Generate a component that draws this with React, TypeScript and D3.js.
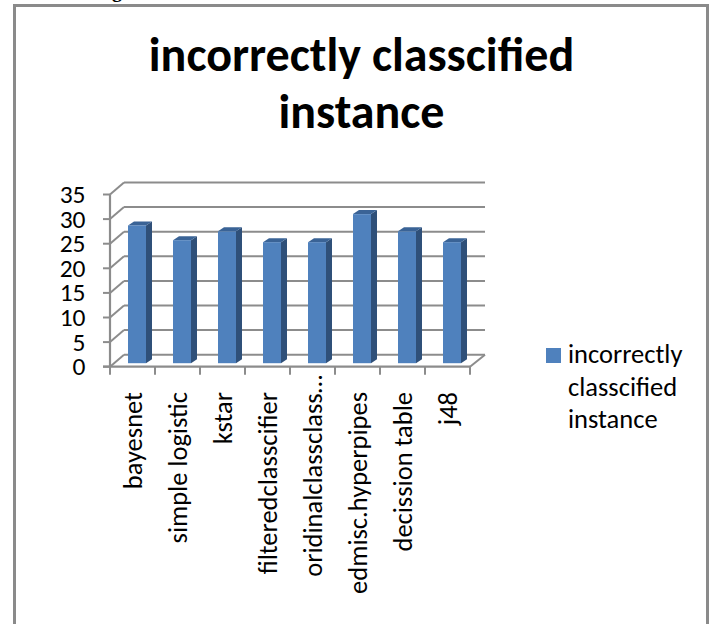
import React from "react";
import * as d3 from "d3";

const categories = ["bayesnet", "simple logistic", "kstar", "filteredclasscifier", "oridinalclassclass…", "edmisc.hyperpipes", "decission table", "j48"];
const values = [28, 25, 26.8, 24.6, 24.6, 30.3, 26.8, 24.6];
const yTicks = [0, 5, 10, 15, 20, 25, 30, 35];
const titleLines = ["incorrectly classcified", "instance"];
const legendLines = ["incorrectly", "classcified", "instance"];

const FONT = "Carlito, Calibri, 'Open Sans', 'Noto Sans', sans-serif";

export default function App() {
  const x = d3.scaleBand<string>().domain(categories).range([110, 470]);
  const y = d3.scaleLinear().domain([0, 35]).range([366.7, 194.5]);
  const dx = 14, dy = 12;
  const grey = "#8c8c8c";
  const barW = 18, d = 6, dt = 4, lift = 3.5;
  return (
    <svg width={714} height={624} style={{ position: "absolute", left: 0, top: 0, background: "#fff" }}>
      <text x={112} y={-3} fontFamily="'Liberation Serif', serif" fontWeight="bold" fontSize={20}>g</text>
      <rect x={14.5} y={5.5} width={693} height={640} fill="#fff" stroke="#8a8a8a" strokeWidth={3} />
      {titleLines.map((t, i) => (
        <text key={t} x={361.5} y={71 + i * 57} textAnchor="middle" fontFamily={FONT} fontWeight="bold" fontSize={48} fill="#000">{t}</text>
      ))}
      {yTicks.map(t => (
        <g key={t}>
          <line x1={110} y1={y(t)} x2={110 + dx} y2={y(t) - dy} stroke={grey} strokeWidth={2} />
          <line x1={110 + dx} y1={y(t) - dy} x2={485} y2={y(t) - dy} stroke={grey} strokeWidth={2} />
          <line x1={103} y1={y(t)} x2={110} y2={y(t)} stroke={grey} strokeWidth={2} />
          <text x={85.5} y={y(t) + 8.5} textAnchor="end" fontFamily={FONT} fontSize={25.5} fill="#000">{t}</text>
        </g>
      ))}
      <line x1={110} y1={y(0)} x2={110} y2={y(35)} stroke={grey} strokeWidth={2.2} />
      <line x1={103} y1={y(0)} x2={470} y2={y(0)} stroke={grey} strokeWidth={2.2} />
      <line x1={470} y1={y(0)} x2={485} y2={y(0) - dy} stroke={grey} strokeWidth={2} />
      {[...categories.map(c => x(c) as number), 470].map((px, i) => (
        <line key={i} x1={px} y1={y(0)} x2={px} y2={y(0) + 8} stroke={grey} strokeWidth={2} />
      ))}
      {categories.map((c, i) => {
        const left = (x(c) as number) + 18;
        const base = y(0) - lift;
        const top = base - (y(0) - y(values[i]));
        return (
          <g key={c}>
            <polygon points={`${left + barW},${top} ${left + barW + d},${top - dt} ${left + barW + d},${base - dt} ${left + barW},${base}`} fill="#2f5079" />
            <polygon points={`${left},${top} ${left + d},${top - dt} ${left + barW + d},${top - dt} ${left + barW},${top}`} fill="#3a6396" />
            <rect x={left} y={top} width={barW} height={base - top} fill="#4f81bd" />
          </g>
        );
      })}
      {categories.map(c => {
        const cx = (x(c) as number) + x.bandwidth() / 2 + 9.2;
        const startY = c.endsWith("…") ? 375 : 392;
        return (
          <text key={c} transform={`translate(${cx},${startY}) rotate(-90)`} textAnchor="end" fontFamily={FONT} fontSize={26.5} fill="#000">{c}</text>
        );
      })}
      <rect x={546} y={348} width={15} height={15} fill="#4f81bd" />
      {legendLines.map((t, i) => (
        <text key={t} x={568} y={363 + i * 32.5} fontFamily={FONT} fontSize={26.5} fill="#000">{t}</text>
      ))}
    </svg>
  );
}
